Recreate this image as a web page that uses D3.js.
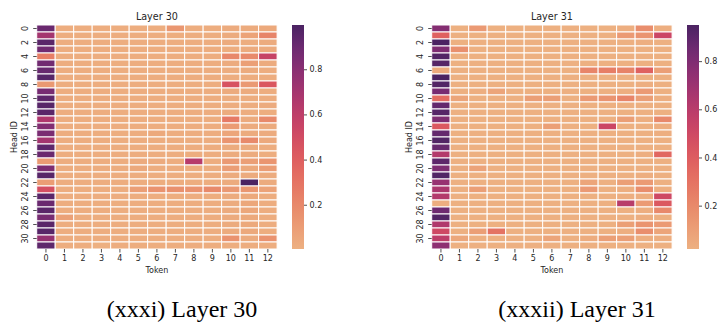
<!DOCTYPE html>
<html>
<head>
<meta charset="utf-8">
<script src="https://cdn.jsdelivr.net/npm/d3@7"></script>
<style>
  body { margin: 0; background: #fff; }
  svg text { font-family: "DejaVu Sans", sans-serif; fill: #262626; }
  .caption { font-family: "Liberation Serif", "Times New Roman", serif; fill: #000; }
</style>
</head>
<body>
<svg id="chart" width="718" height="329"></svg>
<script>
// tokens and heads
const tokens = d3.range(13);
const heads = d3.range(32);
const yTickLabels = d3.range(0, 32, 2);
const cbarTicks = [0.2, 0.4, 0.6, 0.8];

// attention of each head (row) over tokens 0..12
const layer30 = [
  [0.90,0.02,0.02,0.02,0.02,0.02,0.02,0.13,0.02,0.02,0.03,0.03,0.04],
  [0.70,0.02,0.02,0.02,0.02,0.02,0.02,0.02,0.02,0.02,0.03,0.07,0.22],
  [0.95,0.02,0.02,0.02,0.02,0.02,0.02,0.02,0.02,0.02,0.03,0.02,0.03],
  [0.88,0.02,0.02,0.02,0.02,0.02,0.02,0.02,0.02,0.02,0.02,0.03,0.03],
  [0.25,0.02,0.02,0.02,0.02,0.02,0.02,0.02,0.02,0.02,0.20,0.19,0.56],
  [0.88,0.02,0.02,0.02,0.02,0.02,0.02,0.02,0.02,0.02,0.03,0.09,0.03],
  [0.91,0.02,0.02,0.02,0.02,0.02,0.02,0.02,0.02,0.02,0.02,0.03,0.02],
  [0.96,0.02,0.02,0.02,0.02,0.02,0.02,0.02,0.02,0.02,0.02,0.02,0.02],
  [0.12,0.02,0.02,0.02,0.02,0.02,0.02,0.02,0.02,0.02,0.46,0.12,0.44],
  [0.86,0.02,0.02,0.02,0.02,0.02,0.02,0.02,0.02,0.02,0.03,0.03,0.02],
  [0.94,0.02,0.02,0.02,0.02,0.02,0.02,0.02,0.02,0.02,0.02,0.02,0.02],
  [0.96,0.02,0.02,0.02,0.02,0.02,0.02,0.02,0.02,0.02,0.02,0.02,0.03],
  [0.95,0.02,0.02,0.02,0.02,0.02,0.02,0.02,0.02,0.02,0.03,0.02,0.02],
  [0.66,0.02,0.02,0.02,0.02,0.02,0.02,0.02,0.02,0.02,0.27,0.03,0.19],
  [0.82,0.02,0.02,0.02,0.02,0.02,0.02,0.02,0.02,0.02,0.11,0.03,0.03],
  [0.85,0.02,0.02,0.02,0.02,0.02,0.04,0.02,0.02,0.02,0.06,0.03,0.03],
  [0.70,0.02,0.02,0.02,0.02,0.02,0.02,0.02,0.02,0.02,0.14,0.19,0.04],
  [0.94,0.02,0.02,0.02,0.02,0.02,0.02,0.02,0.02,0.02,0.03,0.03,0.02],
  [0.90,0.02,0.02,0.02,0.02,0.02,0.02,0.02,0.02,0.02,0.03,0.03,0.02],
  [0.11,0.02,0.02,0.02,0.02,0.03,0.03,0.02,0.63,0.02,0.12,0.09,0.14],
  [0.84,0.02,0.02,0.02,0.02,0.04,0.02,0.02,0.02,0.02,0.10,0.04,0.10],
  [0.96,0.02,0.02,0.02,0.02,0.02,0.02,0.02,0.02,0.02,0.03,0.03,0.03],
  [0.10,0.02,0.02,0.02,0.02,0.02,0.02,0.02,0.02,0.02,0.03,0.996,0.03],
  [0.48,0.02,0.02,0.02,0.02,0.09,0.15,0.16,0.15,0.19,0.12,0.13,0.07],
  [0.95,0.02,0.02,0.02,0.02,0.02,0.02,0.02,0.02,0.02,0.03,0.04,0.02],
  [0.90,0.02,0.02,0.02,0.02,0.02,0.02,0.02,0.02,0.02,0.03,0.05,0.02],
  [0.95,0.02,0.02,0.02,0.02,0.02,0.02,0.02,0.02,0.02,0.03,0.05,0.02],
  [0.86,0.08,0.02,0.02,0.02,0.02,0.02,0.02,0.02,0.02,0.03,0.04,0.02],
  [0.95,0.02,0.02,0.02,0.02,0.02,0.02,0.02,0.02,0.02,0.03,0.04,0.02],
  [0.96,0.02,0.02,0.02,0.02,0.02,0.02,0.02,0.02,0.02,0.03,0.04,0.02],
  [0.76,0.02,0.02,0.02,0.02,0.02,0.02,0.02,0.02,0.02,0.15,0.03,0.15],
  [0.94,0.02,0.02,0.004,0.02,0.02,0.02,0.02,0.02,0.02,0.02,0.02,0.02]
];

const layer31 = [
  [0.78,0.02,0.12,0.02,0.02,0.02,0.02,0.02,0.02,0.02,0.03,0.18,0.03],
  [0.38,0.02,0.02,0.02,0.02,0.02,0.02,0.02,0.02,0.02,0.12,0.15,0.52],
  [0.95,0.02,0.02,0.02,0.02,0.02,0.02,0.02,0.02,0.02,0.02,0.03,0.02],
  [0.80,0.17,0.02,0.02,0.02,0.02,0.02,0.02,0.02,0.02,0.02,0.02,0.02],
  [0.93,0.02,0.02,0.02,0.02,0.02,0.02,0.02,0.02,0.02,0.02,0.02,0.02],
  [0.92,0.02,0.02,0.02,0.02,0.02,0.02,0.02,0.02,0.02,0.02,0.02,0.02],
  [0.05,0.02,0.02,0.02,0.02,0.02,0.02,0.02,0.22,0.25,0.23,0.38,0.10],
  [0.95,0.02,0.02,0.02,0.02,0.02,0.02,0.02,0.02,0.02,0.02,0.02,0.02],
  [0.93,0.02,0.02,0.02,0.02,0.02,0.02,0.02,0.02,0.02,0.02,0.03,0.02],
  [0.82,0.02,0.03,0.07,0.02,0.02,0.02,0.02,0.02,0.02,0.03,0.12,0.02],
  [0.33,0.07,0.02,0.02,0.02,0.10,0.10,0.02,0.12,0.15,0.22,0.10,0.03],
  [0.88,0.02,0.02,0.02,0.02,0.02,0.02,0.02,0.02,0.02,0.02,0.02,0.02],
  [0.92,0.02,0.02,0.02,0.02,0.02,0.02,0.02,0.02,0.02,0.02,0.02,0.02],
  [0.80,0.02,0.02,0.02,0.02,0.02,0.02,0.02,0.02,0.02,0.10,0.03,0.20],
  [0.42,0.02,0.02,0.02,0.02,0.02,0.10,0.02,0.02,0.52,0.02,0.02,0.03],
  [0.88,0.02,0.02,0.02,0.02,0.02,0.02,0.02,0.02,0.02,0.02,0.02,0.03],
  [0.93,0.02,0.02,0.02,0.02,0.02,0.02,0.02,0.02,0.02,0.02,0.02,0.02],
  [0.87,0.02,0.02,0.02,0.02,0.02,0.02,0.02,0.02,0.02,0.02,0.02,0.02],
  [0.62,0.02,0.02,0.02,0.02,0.02,0.02,0.02,0.02,0.02,0.02,0.03,0.35],
  [0.90,0.02,0.02,0.02,0.02,0.02,0.02,0.02,0.02,0.02,0.02,0.02,0.02],
  [0.80,0.02,0.08,0.02,0.02,0.02,0.02,0.02,0.02,0.02,0.02,0.02,0.02],
  [0.93,0.02,0.02,0.02,0.02,0.02,0.02,0.02,0.02,0.02,0.02,0.03,0.02],
  [0.72,0.02,0.02,0.02,0.02,0.02,0.02,0.02,0.07,0.02,0.10,0.12,0.02],
  [0.65,0.02,0.10,0.02,0.02,0.02,0.02,0.02,0.12,0.02,0.03,0.18,0.03],
  [0.62,0.02,0.02,0.02,0.02,0.02,0.02,0.02,0.02,0.02,0.03,0.03,0.50],
  [0.03,0.02,0.02,0.02,0.02,0.02,0.02,0.02,0.02,0.02,0.60,0.12,0.42],
  [0.85,0.02,0.02,0.02,0.02,0.02,0.02,0.02,0.02,0.02,0.02,0.03,0.20],
  [0.93,0.02,0.02,0.02,0.02,0.02,0.02,0.02,0.02,0.02,0.02,0.03,0.02],
  [0.63,0.02,0.02,0.02,0.02,0.02,0.02,0.02,0.02,0.02,0.10,0.15,0.12],
  [0.50,0.02,0.10,0.30,0.02,0.02,0.02,0.02,0.02,0.02,0.03,0.18,0.07],
  [0.58,0.06,0.02,0.02,0.02,0.02,0.07,0.02,0.04,0.10,0.10,0.03,0.03],
  [0.75,0.02,0.02,0.02,0.02,0.02,0.02,0.02,0.02,0.02,0.02,0.02,0.02]
];

const titles = ["Layer 30", "Layer 31"];
const captions = ["(xxxi) Layer 30", "(xxxii) Layer 31"];
const layers = [layer30, layer31];

// seaborn "flare"
const flareStops = ["#edb081","#eb9c74","#e8886a","#e57362","#df5e5f","#d24b62",
                    "#bf3d69","#a5356f","#8a2f73","#6c2a72","#4b2362"];
const flare = d3.interpolateRgbBasis(flareStops);

const svg = d3.select("#chart");
const defs = svg.append("defs");

function drawPanel(data, idx, offsetX) {
    const left = 36.7 + offsetX, top = 25, w = 240.4, h = 224;
    const g = svg.append("g").attr("transform", `translate(${left},${top})`);

    const x = d3.scaleBand().domain(tokens).range([0, w]);
    const y = d3.scaleBand().domain(heads).range([0, h]);
    const ext = d3.extent(data.flat());
    const color = d3.scaleSequential(flare).domain(ext);

    g.selectAll("g.row")
      .data(data)
      .enter()
      .append("g")
      .attr("class", "row")
      .each(function(row, r){
          d3.select(this).selectAll("rect")
            .data(row)
            .enter()
            .append("rect")
            .attr("x", (v, c) => x(c))
            .attr("y", y(r))
            .attr("width", x.bandwidth())
            .attr("height", y.bandwidth())
            .attr("fill", v => color(v))
            .attr("stroke", "#fff")
            .attr("stroke-width", 1);
      });

    // x axis
    const xa = g.append("g")
      .attr("transform", `translate(0,${h})`)
      .call(d3.axisBottom(x).tickSize(3.5).tickPadding(2.5));
    xa.select(".domain").remove();
    xa.selectAll("line").attr("stroke", "#262626").attr("stroke-width", 0.8);
    xa.selectAll("text").style("font-size", "8px").attr("fill", "#262626");

    // y axis, every other head, labels turned
    const ya = g.append("g")
      .call(d3.axisLeft(y).tickValues(yTickLabels).tickSize(3.5));
    ya.select(".domain").remove();
    ya.selectAll("line").attr("stroke", "#262626").attr("stroke-width", 0.8);
    ya.selectAll("text")
      .style("font-size", "8px")
      .attr("fill", "#262626")
      .attr("x", null)
      .attr("dy", "0.35em")
      .attr("text-anchor", "middle")
      .attr("transform", "translate(-11.7,0) rotate(-90)");

    g.append("text")
      .attr("x", w / 2).attr("y", -5.5)
      .attr("text-anchor", "middle")
      .style("font-size", "9.6px")
      .text(titles[idx]);

    g.append("text")
      .attr("x", w / 2).attr("y", h + 23.5)
      .attr("text-anchor", "middle")
      .style("font-size", "8px")
      .text("Token");

    g.append("text")
      .attr("transform", `translate(${-20},${h / 2}) rotate(-90)`)
      .attr("text-anchor", "middle")
      .style("font-size", "8px")
      .text("Head ID");

    // colorbar
    const cbX = 292 + offsetX, cbW = 12;
    const gid = "cb" + idx;
    const grad = defs.append("linearGradient")
      .attr("id", gid)
      .attr("x1", 0).attr("y1", 1).attr("x2", 0).attr("y2", 0);
    grad.selectAll("stop")
      .data(d3.range(0, 1.0001, 0.05))
      .enter()
      .append("stop")
      .attr("offset", t => t)
      .attr("stop-color", t => flare(t));

    const cbScale = d3.scaleLinear().domain(ext).range([top + h, top]);
    svg.append("rect")
      .attr("x", cbX).attr("y", top)
      .attr("width", cbW).attr("height", h)
      .attr("fill", `url(#${gid})`);
    const ca = svg.append("g")
      .attr("transform", `translate(${cbX + cbW},0)`)
      .call(d3.axisRight(cbScale).tickValues(cbarTicks).tickSize(3).tickPadding(2.5).tickFormat(d3.format(".1f")));
    ca.select(".domain").remove();
    ca.selectAll("line").attr("stroke", "#262626").attr("stroke-width", 0.8);
    ca.selectAll("text").style("font-size", "8px").attr("fill", "#262626");

    svg.append("text")
      .attr("class", "caption")
      .attr("x", [182, 577][idx])
      .attr("y", 317)
      .attr("text-anchor", "middle")
      .style("font-size", "24px")
      .text(captions[idx]);
}

drawPanel(layer30, 0, 0);
drawPanel(layer31, 1, 395);
</script>
</body>
</html>
